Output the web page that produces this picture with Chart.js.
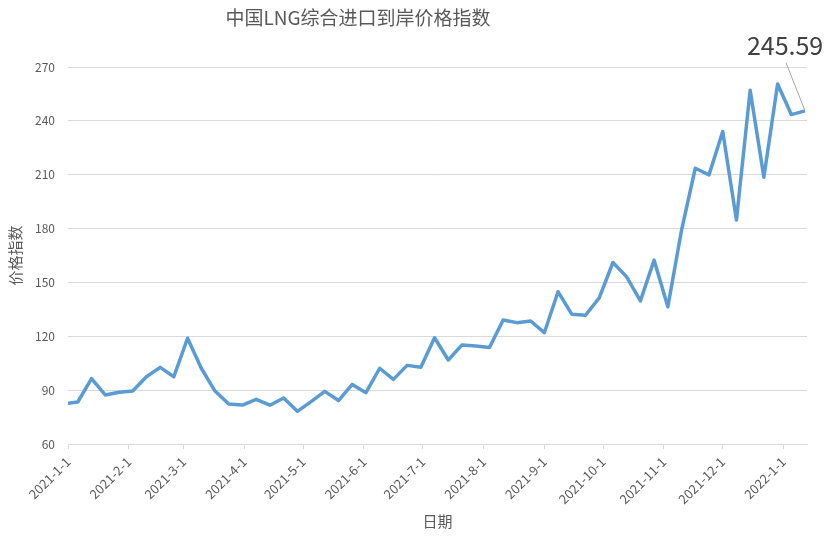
<!DOCTYPE html>
<html>
<head>
<meta charset="utf-8">
<script src="https://cdn.jsdelivr.net/npm/chart.js@4"></script>
<style>
  html, body { margin: 0; padding: 0; background: #fff; }
  #wrap { width: 831px; height: 536px; }
</style>
</head>
<body>
<div id="wrap"><canvas id="chart"></canvas></div>
<script>
// ========== DATA ==========
const title = '中国LNG综合进口到岸价格指数';
const yTitle = '价格指数';
const xTitle = '日期';

const dates = [
    '2021-01-01',
    '2021-01-06', '2021-01-13', '2021-01-20', '2021-01-27',
    '2021-02-03', '2021-02-10', '2021-02-17', '2021-02-24',
    '2021-03-03', '2021-03-10', '2021-03-17', '2021-03-24', '2021-03-31',
    '2021-04-07', '2021-04-14', '2021-04-21', '2021-04-28',
    '2021-05-05', '2021-05-12', '2021-05-19', '2021-05-26',
    '2021-06-02', '2021-06-09', '2021-06-16', '2021-06-23', '2021-06-30',
    '2021-07-07', '2021-07-14', '2021-07-21', '2021-07-28',
    '2021-08-04', '2021-08-11', '2021-08-18', '2021-08-25',
    '2021-09-01', '2021-09-08', '2021-09-15', '2021-09-22', '2021-09-29',
    '2021-10-06', '2021-10-13', '2021-10-20', '2021-10-27',
    '2021-11-03', '2021-11-10', '2021-11-17', '2021-11-24',
    '2021-12-01', '2021-12-08', '2021-12-15', '2021-12-22', '2021-12-29',
    '2022-01-05', '2022-01-12'
];

const values = [
    82.7,
    83.4, 96.4, 87.3, 88.8,
    89.5, 97.5, 102.7, 97.5,
    118.9, 102.2, 89.5, 82.3, 81.7,
    84.9, 81.6, 85.6, 78.2,
    83.6, 89.3, 84.2, 93.2,
    88.6, 102.2, 96.0, 103.8, 102.7,
    119.2, 106.8, 115.2, 114.6,
    113.7, 129.1, 127.6, 128.5,
    122.0, 144.8, 132.3, 131.7, 141.4,
    161.1, 153.1, 139.7, 162.4,
    136.4, 179.2, 213.6, 209.9,
    234.1, 184.8, 257.0, 208.6, 260.5,
    243.5, 245.59
];

const tickDates = [
    '2021-01-01', '2021-02-01', '2021-03-01', '2021-04-01', '2021-05-01',
    '2021-06-01', '2021-07-01', '2021-08-01', '2021-09-01', '2021-10-01',
    '2021-11-01', '2021-12-01', '2022-01-01'
];
const axisEnd = '2022-01-13';
const yTicks = [60, 90, 120, 150, 180, 210, 240, 270];

// ========== HELPERS ==========
const DAY = 86400000;
const start = Date.parse(dates[0]);
const toDay = s => Math.round((Date.parse(s) - start) / DAY);
const fmtDate = day => {
    const d = new Date(start + day * DAY);
    return `${d.getUTCFullYear()}-${d.getUTCMonth() + 1}-${d.getUTCDate()}`;
};

const points = dates.map((d, i) => ({ x: toDay(d), y: values[i] }));
const FONT = '"Noto Sans CJK SC", "Noto Sans", sans-serif';

// title drawn off-centre like the original
const titlePlugin = {
    id: 'chartTitle',
    afterDraw(chart) {
        const c = chart.ctx;
        c.save();
        c.font = `19px ${FONT}`;
        c.fillStyle = '#595959';
        c.textAlign = 'center';
        c.textBaseline = 'middle';
        c.fillText(title, 358, 18);
        c.restore();
    }
};

// callout for the last value
const lastLabel = {
    id: 'lastLabel',
    afterDatasetsDraw(chart) {
        const meta = chart.getDatasetMeta(0);
        const el = meta.data[meta.data.length - 1];
        const c = chart.ctx;
        c.save();
        c.strokeStyle = '#a6a6a6';
        c.lineWidth = 1;
        c.beginPath();
        c.moveTo(el.x - 19, el.y - 48);
        c.lineTo(el.x, el.y);
        c.stroke();
        c.font = `25px ${FONT}`;
        c.fillStyle = '#404040';
        c.textAlign = 'center';
        c.textBaseline = 'middle';
        c.fillText(values[values.length - 1].toFixed(2), el.x - 20, el.y - 65);
        c.restore();
    }
};

new Chart(document.getElementById('chart'), {
    type: 'line',
    data: {
        datasets: [{
            data: points,
            borderColor: '#5b9bd5',
            borderWidth: 3.5,
            pointRadius: 0,
            tension: 0,
            borderJoinStyle: 'round',
            fill: false
        }]
    },
    options: {
        responsive: true,
        maintainAspectRatio: false,
        animation: false,
        layout: { padding: { top: 67, right: 24, left: 0, bottom: 0 } },
        plugins: {
            legend: { display: false },
            tooltip: { enabled: false }
        },
        scales: {
            x: {
                type: 'linear',
                min: 0,
                max: toDay(axisEnd),
                afterBuildTicks: scale => {
                    scale.ticks = tickDates.map(d => ({ value: toDay(d) }));
                },
                afterFit: scale => { scale.height = 92; },
                ticks: {
                    autoSkip: false,
                    maxRotation: 45,
                    minRotation: 45,
                    padding: 5,
                    color: '#595959',
                    font: { family: FONT, size: 13 },
                    callback: v => fmtDate(v)
                },
                grid: {
                    drawOnChartArea: false,
                    drawTicks: true,
                    tickLength: 5,
                    color: '#d9d9d9'
                },
                border: { color: '#d9d9d9' },
                title: {
                    display: true,
                    text: xTitle,
                    color: '#595959',
                    font: { family: FONT, size: 15 },
                    padding: { top: 0, bottom: 6 }
                }
            },
            y: {
                min: 60,
                max: 270,
                afterBuildTicks: scale => {
                    scale.ticks = yTicks.map(v => ({ value: v }));
                },
                afterFit: scale => { scale.width = 68; },
                ticks: {
                    padding: 13,
                    color: '#595959',
                    font: { family: FONT, size: 12 }
                },
                grid: {
                    color: '#d9d9d9',
                    drawTicks: false
                },
                border: { display: false },
                title: {
                    display: true,
                    text: yTitle,
                    color: '#595959',
                    font: { family: FONT, size: 15 },
                    padding: { top: 6, bottom: 6 }
                }
            }
        }
    },
    plugins: [titlePlugin, lastLabel]
});
</script>
</body>
</html>
